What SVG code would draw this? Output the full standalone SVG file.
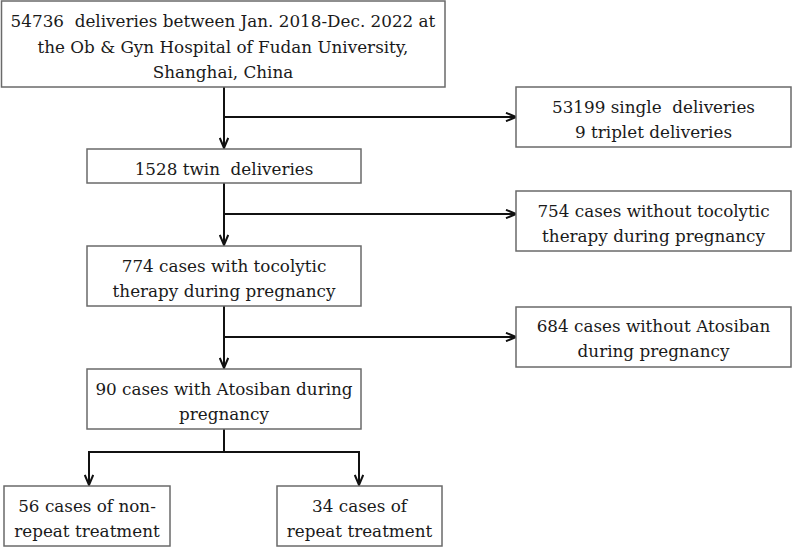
<svg xmlns="http://www.w3.org/2000/svg" width="793" height="553" viewBox="0 0 793 553">
<style>
.box{fill:#fff;stroke:#6a6a6a;stroke-width:1.5}
.t{font-family:'DejaVu Serif','Liberation Serif',serif;font-size:16.8px;fill:#1a1a1a;text-anchor:middle}
.c{fill:none;stroke:#111;stroke-width:2}
</style>
<defs>
<marker id="ah" viewBox="0 0 12 10" refX="11" refY="5" markerWidth="12" markerHeight="10" markerUnits="userSpaceOnUse" orient="auto">
<polyline points="1,0.8 11,5 1,9.2" fill="none" stroke="#111" stroke-width="2"/>
</marker>
</defs>
<rect width="793" height="553" fill="#fff"/>
<g id="connectors">
<line class="c" x1="224" y1="87" x2="224" y2="148" marker-end="url(#ah)"/>
<line class="c" x1="224" y1="117" x2="516" y2="117" marker-end="url(#ah)"/>
<line class="c" x1="224" y1="183" x2="224" y2="245" marker-end="url(#ah)"/>
<line class="c" x1="224" y1="214" x2="516" y2="214" marker-end="url(#ah)"/>
<line class="c" x1="224" y1="306" x2="224" y2="368" marker-end="url(#ah)"/>
<line class="c" x1="224" y1="337" x2="516" y2="337" marker-end="url(#ah)"/>
<polyline class="c" points="224,429 224,452"/>
<polyline class="c" points="89,485 89,452 359,452 359,485"/>
<line class="c" x1="89" y1="460" x2="89" y2="485" marker-end="url(#ah)"/>
<line class="c" x1="359" y1="460" x2="359" y2="485" marker-end="url(#ah)"/>
</g>
<g id="n1">
<rect class="box" x="1.5" y="1" width="443.5" height="86"/>
<text class="t" xml:space="preserve" x="223" y="27">54736  deliveries between Jan. 2018-Dec. 2022 at</text>
<text class="t" x="223" y="52.5">the Ob &amp; Gyn Hospital of Fudan University,</text>
<text class="t" x="223" y="78">Shanghai, China</text>
</g>
<g id="n2">
<rect class="box" x="516" y="87" width="275" height="60"/>
<text class="t" xml:space="preserve" x="653.5" y="112.5">53199 single  deliveries</text>
<text class="t" x="653.5" y="137.5">9 triplet deliveries</text>
</g>
<g id="n3">
<rect class="box" x="87" y="149" width="274" height="34"/>
<text class="t" xml:space="preserve" x="224" y="175">1528 twin  deliveries</text>
</g>
<g id="n4">
<rect class="box" x="516" y="191" width="275" height="60"/>
<text class="t" x="653.5" y="217">754 cases without tocolytic</text>
<text class="t" x="653.5" y="242">therapy during pregnancy</text>
</g>
<g id="n5">
<rect class="box" x="87" y="246" width="274" height="60"/>
<text class="t" x="224" y="272">774 cases with tocolytic</text>
<text class="t" x="224" y="297">therapy during pregnancy</text>
</g>
<g id="n6">
<rect class="box" x="516" y="307" width="275" height="60"/>
<text class="t" x="653.5" y="332">684 cases without Atosiban</text>
<text class="t" x="653.5" y="357">during pregnancy</text>
</g>
<g id="n7">
<rect class="box" x="87" y="369" width="274" height="60"/>
<text class="t" x="224" y="395">90 cases with Atosiban during</text>
<text class="t" x="224" y="420">pregnancy</text>
</g>
<g id="n8">
<rect class="box" x="4" y="486" width="166" height="60"/>
<text class="t" x="87" y="512">56 cases of non-</text>
<text class="t" x="87" y="537">repeat treatment</text>
</g>
<g id="n9">
<rect class="box" x="277" y="486" width="165" height="60"/>
<text class="t" x="359.5" y="512">34 cases of</text>
<text class="t" x="359.5" y="537">repeat treatment</text>
</g>
</svg>
